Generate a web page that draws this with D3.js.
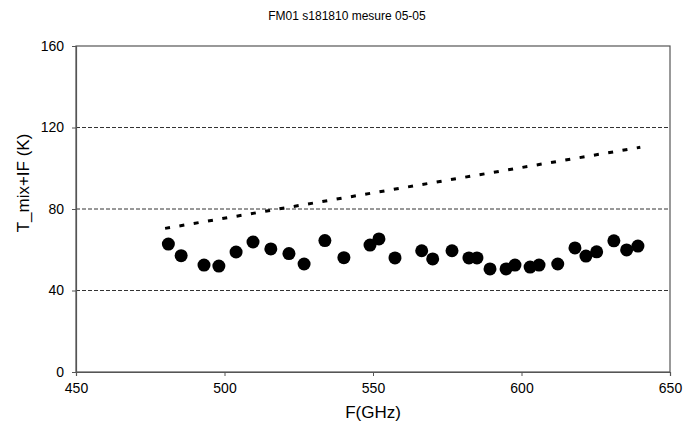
<!doctype html>
<html>
<head>
	<meta charset="utf-8">
	<title>FM01 s181810 mesure 05-05</title>
	<script src="https://d3js.org/d3.v7.min.js"></script>
	<style>
		body { margin: 0; background: #fff; }
		text { font-family: "Liberation Sans", Arial, sans-serif; fill: #000; }
	</style>
</head>
<body>
<script>

// measured points
const freq = [481.1, 485.4, 493.1, 498.1, 503.9, 509.6, 515.6, 521.7, 526.8, 533.8,
			  540.2, 549.0, 552.0, 557.4, 566.4, 570.1, 576.6, 582.3, 585.0, 589.4,
			  594.8, 597.8, 602.9, 605.9, 612.2, 618.0, 621.7, 625.3, 631.1, 635.4, 639.2];
const tmix = [62.8, 57.1, 52.5, 52.0, 58.9, 63.8, 60.4, 58.1, 53.0, 64.5,
			  56.1, 62.3, 65.3, 56.0, 59.5, 55.5, 59.5, 56.0, 56.0, 50.6,
			  50.6, 52.5, 51.5, 52.5, 53.0, 60.9, 56.9, 59.0, 64.4, 59.9, 61.8];

// spec line
const specF = [480, 640];
const specT = [70.5, 110.3];

const xTicks = [450, 500, 550, 600, 650];
const yTicks = [0, 40, 80, 120, 160];

const w = 685;
const h = 428;
const margin = {left: 76, right: 15, top: 46, bottom: 56};

const svg = d3.select("body").append("svg")
	.attr("width", w)
	.attr("height", h);

const x = d3.scaleLinear().domain([450, 650]).range([margin.left, w - margin.right]);
const y = d3.scaleLinear().domain([0, 160]).range([h - margin.bottom, margin.top]);

// grid lines
svg.append("g")
	.selectAll("line")
	.data(yTicks.filter(d => d > 0 && d < 160))
	.enter().append("line")
	.attr("x1", x(450)).attr("x2", x(650))
	.attr("y1", d => y(d)).attr("y2", d => y(d))
	.attr("stroke", "#333")
	.attr("stroke-width", 1)
	.attr("stroke-dasharray", "4,2");

// plot frame
svg.append("rect")
	.attr("x", x(450)).attr("y", y(160))
	.attr("width", x(650) - x(450))
	.attr("height", y(0) - y(160))
	.attr("fill", "none")
	.attr("stroke", "#555")
	.attr("stroke-width", 1.2);

const xAxis = svg.append("g")
	.attr("transform", "translate(0," + y(0) + ")")
	.call(d3.axisBottom(x).tickValues(xTicks).tickSize(4).tickPadding(7));
const yAxis = svg.append("g")
	.attr("transform", "translate(" + x(450) + ",0)")
	.call(d3.axisLeft(y).tickValues(yTicks).tickSize(4).tickPadding(8));

[xAxis, yAxis].forEach(function(a) {
	a.select(".domain").attr("stroke", "#555").attr("stroke-width", 1.2);
	a.selectAll(".tick line").attr("stroke", "#555");
	a.selectAll(".tick text")
		.style("font-family", '"Liberation Sans", Arial, sans-serif')
		.style("font-size", "14px")
		.attr("fill", "#000");
});

// spec line (dashed)
const line = d3.line()
	.x(d => x(d[0]))
	.y(d => y(d[1]));

svg.append("path")
	.datum(specF.map((f, i) => [f, specT[i]]))
	.attr("d", line)
	.attr("fill", "none")
	.attr("stroke", "#000")
	.attr("stroke-width", 3)
	.attr("stroke-dasharray", "5,9.5");

// points
svg.append("g")
	.selectAll("circle")
	.data(freq.map((f, i) => [f, tmix[i]]))
	.enter().append("circle")
	.attr("cx", d => x(d[0]))
	.attr("cy", d => y(d[1]))
	.attr("r", 6.5)
	.attr("fill", "#000");

// titles
svg.append("text")
	.attr("x", 347).attr("y", 20)
	.attr("text-anchor", "middle")
	.style("font-size", "12px")
	.text("FM01 s181810 mesure 05-05");

svg.append("text")
	.attr("x", x(550)).attr("y", 418)
	.attr("text-anchor", "middle")
	.style("font-size", "17px")
	.text("F(GHz)");

svg.append("text")
	.attr("transform", "translate(29,183) rotate(-90)")
	.attr("text-anchor", "middle")
	.style("font-size", "17px")
	.text("T_mix+IF (K)");

</script>
</body>
</html>
